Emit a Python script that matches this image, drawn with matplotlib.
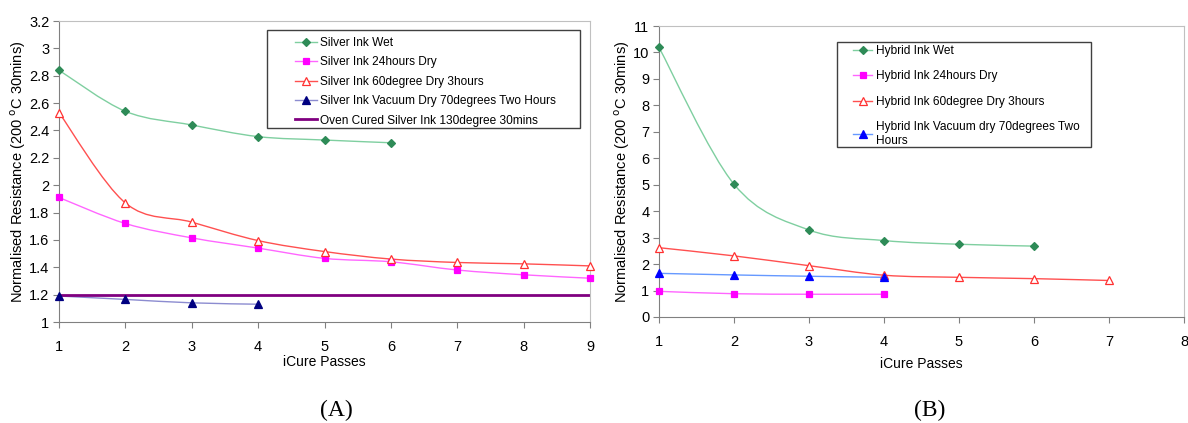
import matplotlib
matplotlib.use("Agg")
import matplotlib.pyplot as plt
import numpy as np
from matplotlib.path import Path
from matplotlib.patches import PathPatch, Rectangle
from matplotlib.lines import Line2D
from matplotlib.ticker import FuncFormatter

plt.rcParams['font.family'] = ['Liberation Sans', 'DejaVu Sans']

# ---- Data: panel A (silver ink) ----
passes_a = [1, 2, 3, 4, 5, 6, 7, 8, 9]
silver_wet = [2.84, 2.54, 2.44, 2.355, 2.33, 2.31]
silver_24h = [1.91, 1.72, 1.615, 1.54, 1.465, 1.44, 1.38, 1.345, 1.32]
silver_60 = [2.53, 1.87, 1.73, 1.595, 1.515, 1.46, 1.435, 1.425, 1.41]
silver_vac = [1.19, 1.165, 1.14, 1.13]
oven_cured = 1.2

# ---- Data: panel B (hybrid ink) ----
passes_b = [1, 2, 3, 4, 5, 6, 7]
hybrid_wet = [10.19, 5.02, 3.29, 2.89, 2.75, 2.68]
hybrid_24h = [0.97, 0.88, 0.86, 0.86]
hybrid_60 = [2.62, 2.31, 1.94, 1.58, 1.50, 1.45, 1.38]
hybrid_vac = [1.65, 1.59, 1.54, 1.50]

labels_a = ["Silver Ink Wet", "Silver Ink 24hours Dry", "Silver Ink 60degree Dry 3hours",
            "Silver Ink Vacuum Dry 70degrees Two Hours", "Oven Cured Silver Ink 130degree 30mins"]
labels_b = ["Hybrid Ink Wet", "Hybrid Ink 24hours Dry", "Hybrid Ink 60degree Dry 3hours",
            "Hybrid Ink Vacuum dry 70degrees Two\nHours"]

W, H = 1188, 423
fig = plt.figure(figsize=(W / 100, H / 100), dpi=100)
LFS = 8.6
EM = LFS * 100 / 72.0  # legend font size in px


def px_axes(x0, y0, x1, y1):
    return fig.add_axes([x0 / W, 1 - y1 / H, (x1 - x0) / W, (y1 - y0) / H])


def px_box(x0, y0, x1, y1):
    fig.add_artist(Rectangle((x0 / W, 1 - y1 / H), (x1 - x0) / W, (y1 - y0) / H,
                             transform=fig.transFigure, facecolor='white', edgecolor='#404040',
                             lw=1.0, zorder=4))


def smooth_path(x, y):
    pts = np.column_stack([x, y]).astype(float)
    n = len(pts)
    verts = [pts[0]]
    codes = [Path.MOVETO]
    for i in range(n - 1):
        p0 = pts[i - 1] if i > 0 else pts[i]
        p1 = pts[i]
        p2 = pts[i + 1]
        p3 = pts[i + 2] if i + 2 < n else pts[i + 1]
        c1 = p1 + (p2 - p0) / 6.0
        c2 = p2 - (p3 - p1) / 6.0
        verts += [c1, c2, p2]
        codes += [Path.CURVE4] * 3
    return Path(verts, codes)


def series(ax, x, y, lc, mc, marker, ms, mfc=None, lw=1.0, label=None):
    x = x[:len(y)]
    ax.add_patch(PathPatch(smooth_path(x, y), facecolor='none', edgecolor=lc, lw=lw, zorder=2))
    ax.plot(x, y, linestyle='none', marker=marker, ms=ms, mec=mc,
            mfc=mfc if mfc is not None else mc, mew=0.9, zorder=3, clip_on=False)
    return Line2D([], [], color=lc, lw=lw, marker=marker, ms=ms, mec=mc,
                  mfc=mfc if mfc is not None else mc, mew=0.9, label=label)


def style(ax, xlabelpad):
    for s in ['left', 'bottom']:
        ax.spines[s].set_color('#808080')
    for s in ['top', 'right']:
        ax.spines[s].set_color('#c0c0c0')
    ax.tick_params(direction='out', length=4, color='#808080', labelsize=10.5)
    ax.tick_params(axis='x', pad=9)
    ax.tick_params(axis='y', pad=3)
    ax.yaxis.set_major_formatter(FuncFormatter(lambda v, p: ('%.1f' % v).rstrip('0').rstrip('.')))
    ax.xaxis.set_major_formatter(FuncFormatter(lambda v, p: '%d' % round(v)))
    ax.set_xlabel("iCure Passes", fontsize=10, labelpad=xlabelpad)
    ax.set_ylabel("Normalised Resistance (200 $^{\\mathrm{o}}$C 30mins)", fontsize=10.5, labelpad=1)


def place_legend(handles, hx0, htop, hlen_px, pad_px, spacing):
    leg = fig.legend(handles=handles, loc='upper left', bbox_to_anchor=(hx0 / W, 1 - htop / H),
                     bbox_transform=fig.transFigure, fontsize=LFS, frameon=False,
                     handlelength=hlen_px / EM, handletextpad=pad_px / EM, labelspacing=spacing,
                     borderpad=0, borderaxespad=0)
    leg.set_zorder(5)
    return leg


# ---- Panel A ----
axA = px_axes(59, 21, 590, 322)
hA = []
hA.append(series(axA, passes_a, silver_wet, '#7fcfa0', '#2e8b57', 'D', 3.8, label=labels_a[0]))
hA.append(series(axA, passes_a, silver_24h, '#ff66ff', '#ff00ff', 's', 4.6, label=labels_a[1]))
hA.append(series(axA, passes_a, silver_60, '#ff5050', '#ff3030', '^', 6, mfc='white', label=labels_a[2]))
hA.append(series(axA, passes_a, silver_vac, '#8c8cd0', '#000080', '^', 5.5, label=labels_a[3]))
axA.axhline(oven_cured, color='#800080', lw=2)
hA.append(Line2D([], [], color='#800080', lw=2, label=labels_a[4]))
axA.set_xlim(1, 9)
axA.set_ylim(1, 3.2)
axA.set_xticks(passes_a)
axA.set_yticks(np.arange(1.0, 3.21, 0.2))
style(axA, 1)
px_box(267, 30, 580, 128)
place_legend(hA, 295, 37, 22, 2.5, 0.62)

# ---- Panel B ----
axB = px_axes(659, 26, 1184, 317)
hB = []
hB.append(series(axB, passes_b, hybrid_wet, '#7fcfa0', '#2e8b57', 'D', 3.8, label=labels_b[0]))
hB.append(series(axB, passes_b, hybrid_24h, '#ff66ff', '#ff00ff', 's', 4.6, label=labels_b[1]))
hB.append(series(axB, passes_b, hybrid_60, '#ff5050', '#ff3030', '^', 5.2, mfc='white', label=labels_b[2]))
hB.append(series(axB, passes_b, hybrid_vac, '#6699ff', '#0000ff', '^', 5.2, label=labels_b[3]))
axB.set_xlim(1, 8)
axB.set_ylim(0, 11)
axB.set_xticks(range(1, 9))
axB.set_yticks(range(0, 12))
style(axB, 6)
px_box(837, 42, 1091, 147)
place_legend(hB, 853, 45, 19, 4, 1.12)

fig.text(336 / W, 1 - 410 / H, "(A)", fontsize=17, family=['Liberation Serif', 'DejaVu Serif'],
         ha='center', va='center')
fig.text(930 / W, 1 - 410 / H, "(B)", fontsize=17, family=['Liberation Serif', 'DejaVu Serif'],
         ha='center', va='center')

fig.savefig("out.png", dpi=100)
